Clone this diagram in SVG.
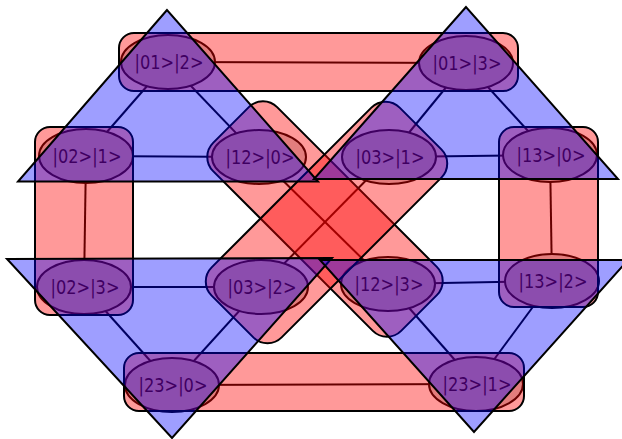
<svg xmlns="http://www.w3.org/2000/svg" width="622" height="439" viewBox="0 0 622 439">
<style>
.edge{stroke:#000;stroke-width:2;fill:none}
.node ellipse{fill:#d0d0d0;stroke:#000;stroke-width:2}
.node text{font-family:"DejaVu Sans","Liberation Sans",sans-serif;font-size:19.5px;fill:#000;text-anchor:middle}
.pair{fill:#ff0000;fill-opacity:0.4;stroke:#000;stroke-width:2}
.tri{fill:#0000ff;fill-opacity:0.38;stroke:#000;stroke-width:2;stroke-linejoin:miter}
</style>
<rect width="622" height="439" fill="#fff"/>
<g id="connectors">
<line class="edge" x1="168" y1="62" x2="86" y2="156"/>
<line class="edge" x1="168" y1="62" x2="259" y2="157"/>
<line class="edge" x1="86" y1="156" x2="259" y2="157"/>
<line class="edge" x1="466" y1="63" x2="389" y2="157"/>
<line class="edge" x1="466" y1="63" x2="550" y2="155"/>
<line class="edge" x1="389" y1="157" x2="550" y2="155"/>
<line class="edge" x1="84" y1="287" x2="261" y2="287"/>
<line class="edge" x1="84" y1="287" x2="172" y2="385"/>
<line class="edge" x1="261" y1="287" x2="172" y2="385"/>
<line class="edge" x1="388" y1="284" x2="552" y2="281"/>
<line class="edge" x1="388" y1="284" x2="476" y2="384"/>
<line class="edge" x1="552" y1="281" x2="476" y2="384"/>
<line class="edge" x1="168" y1="62" x2="466" y2="63"/>
<line class="edge" x1="172" y1="385" x2="476" y2="384"/>
<line class="edge" x1="86" y1="156" x2="84" y2="287"/>
<line class="edge" x1="550" y1="155" x2="552" y2="281"/>
<line class="edge" x1="259" y1="157" x2="388" y2="284"/>
<line class="edge" x1="389" y1="157" x2="261" y2="287"/>
</g>
<g id="n012" class="node"><ellipse cx="168" cy="62" rx="47" ry="27"/><text x="169" y="69" textLength="69" lengthAdjust="spacingAndGlyphs">|01&gt;|2&gt;</text></g>
<g id="n021" class="node"><ellipse cx="86" cy="156" rx="47" ry="27"/><text x="87" y="163" textLength="69" lengthAdjust="spacingAndGlyphs">|02&gt;|1&gt;</text></g>
<g id="n120" class="node"><ellipse cx="259" cy="157" rx="47" ry="27"/><text x="260" y="164" textLength="69" lengthAdjust="spacingAndGlyphs">|12&gt;|0&gt;</text></g>
<g id="n013" class="node"><ellipse cx="466" cy="63" rx="47" ry="27"/><text x="467" y="70" textLength="69" lengthAdjust="spacingAndGlyphs">|01&gt;|3&gt;</text></g>
<g id="n031" class="node"><ellipse cx="389" cy="157" rx="47" ry="27"/><text x="390" y="164" textLength="69" lengthAdjust="spacingAndGlyphs">|03&gt;|1&gt;</text></g>
<g id="n130" class="node"><ellipse cx="550" cy="155" rx="47" ry="27"/><text x="551" y="162" textLength="69" lengthAdjust="spacingAndGlyphs">|13&gt;|0&gt;</text></g>
<g id="n023" class="node"><ellipse cx="84" cy="287" rx="47" ry="27"/><text x="85" y="294" textLength="69" lengthAdjust="spacingAndGlyphs">|02&gt;|3&gt;</text></g>
<g id="n032" class="node"><ellipse cx="261" cy="287" rx="47" ry="27"/><text x="262" y="294" textLength="69" lengthAdjust="spacingAndGlyphs">|03&gt;|2&gt;</text></g>
<g id="n230" class="node"><ellipse cx="172" cy="385" rx="47" ry="27"/><text x="173" y="392" textLength="69" lengthAdjust="spacingAndGlyphs">|23&gt;|0&gt;</text></g>
<g id="n123" class="node"><ellipse cx="388" cy="284" rx="47" ry="27"/><text x="389" y="291" textLength="69" lengthAdjust="spacingAndGlyphs">|12&gt;|3&gt;</text></g>
<g id="n132" class="node"><ellipse cx="552" cy="281" rx="47" ry="27"/><text x="553" y="288" textLength="69" lengthAdjust="spacingAndGlyphs">|13&gt;|2&gt;</text></g>
<g id="n231" class="node"><ellipse cx="476" cy="384" rx="47" ry="27"/><text x="477" y="391" textLength="69" lengthAdjust="spacingAndGlyphs">|23&gt;|1&gt;</text></g>
<g id="pairs">
<rect id="p01" class="pair" x="119" y="33" width="399" height="58" rx="15"/>
<rect id="p23" class="pair" x="124" y="353" width="400" height="58" rx="15"/>
<rect id="p02" class="pair" x="35" y="127" width="98" height="188" rx="15"/>
<rect id="p13" class="pair" x="499" y="127" width="99" height="180" rx="15"/>
<rect id="p12" class="pair" x="251.7" y="-120.2" width="265.9" height="90.5" rx="20" transform="rotate(45)"/>
<rect id="p03" class="pair" x="338.7" y="-206.5" width="99" height="265.9" rx="20" transform="rotate(45)"/>
</g>
<g id="triangles">
<polygon id="t0" class="tri" points="167,10 18,181.5 318,181.5"/>
<polygon id="t1" class="tri" points="466,7 314,179 618,179"/>
<polygon id="t2" class="tri" points="7,259 332,258 172,438"/>
<polygon id="t3" class="tri" points="320,260 628,260 474,432"/>
</g>
</svg>
